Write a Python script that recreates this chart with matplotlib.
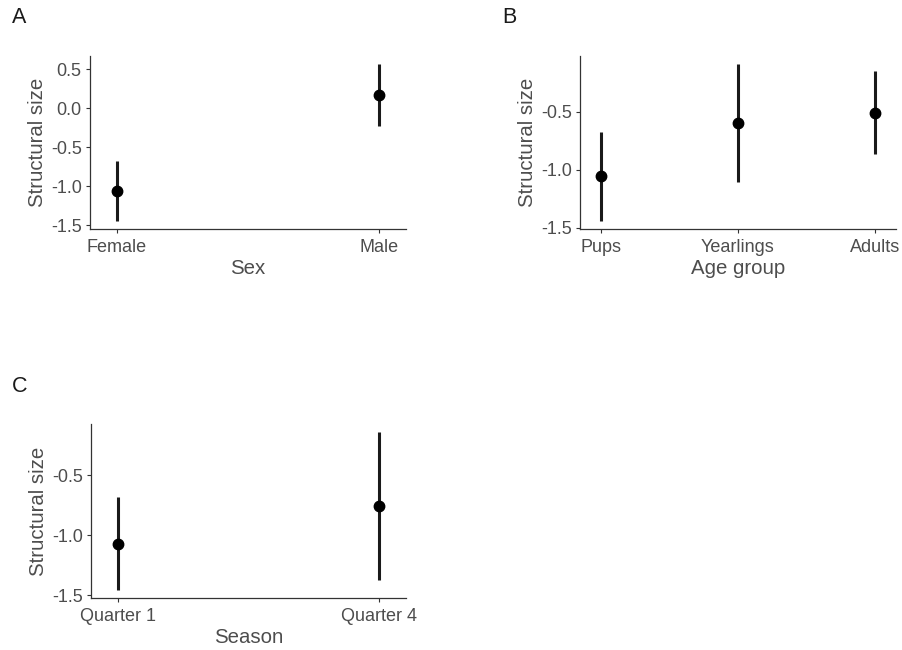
import matplotlib
matplotlib.use("Agg")
import matplotlib.pyplot as plt

plt.rcParams['font.family'] = ['Liberation Sans', 'DejaVu Sans']

# Panel A: Sex
sex_cats = ["Female", "Male"]
sex_est = [-1.068, 0.168]
sex_lo = [-1.45, -0.23]
sex_hi = [-0.68, 0.57]

# Panel B: Age group
age_cats = ["Pups", "Yearlings", "Adults"]
age_est = [-1.057, -0.60, -0.509]
age_lo = [-1.443, -1.106, -0.86]
age_hi = [-0.678, -0.086, -0.149]

# Panel C: Season
season_cats = ["Quarter 1", "Quarter 4"]
season_est = [-1.07, -0.758]
season_lo = [-1.458, -1.375]
season_hi = [-0.68, -0.139]

W, H = 902, 650
fig = plt.figure(figsize=(W / 100, H / 100), dpi=100)

TICK_C = "#4d4d4d"
TITLE_C = "#4d4d4d"


def px_axes(left, top, right, bottom):
    return fig.add_axes([left / W, 1 - bottom / H, (right - left) / W, (bottom - top) / H])


def panel(ax, cats, est, lo, hi, xlabel, yticks, ylim, xpad):
    xs = list(range(len(cats)))
    ax.vlines(xs, lo, hi, color="#1a1a1a", lw=2.2, zorder=2)
    ax.plot(xs, est, "o", color="black", ms=7.5, zorder=3)
    ax.set_xticks(xs)
    ax.set_xticklabels(cats)
    ax.set_xlim(-xpad, len(cats) - 1 + xpad)
    ax.set_yticks(yticks)
    ax.set_yticklabels([f"{v:.1f}" for v in yticks])
    ax.set_ylim(*ylim)
    for s in ["top", "right"]:
        ax.spines[s].set_visible(False)
    for s in ["left", "bottom"]:
        ax.spines[s].set_color("#333333")
        ax.spines[s].set_linewidth(0.9)
    ax.tick_params(axis="both", length=3, width=0.8, color="#333333",
                   labelcolor=TICK_C, labelsize=13, pad=3)
    ax.tick_params(axis="x", pad=4.5)
    ax.set_xlabel(xlabel, fontsize=14.7, color=TITLE_C, labelpad=2)
    ax.set_ylabel("Structural size", fontsize=14.7, color=TITLE_C, labelpad=3)


axA = px_axes(90, 56, 406, 229)
panel(axA, sex_cats, sex_est, sex_lo, sex_hi, "Sex",
      [-1.5, -1.0, -0.5, 0.0, 0.5], (-1.551, 0.671), 0.103)

axB = px_axes(580, 56, 896, 229)
panel(axB, age_cats, age_est, age_lo, age_hi, "Age group",
      [-1.5, -1.0, -0.5], (-1.511, -0.018), 0.153)

axC = px_axes(91, 424, 406, 598)
panel(axC, season_cats, season_est, season_lo, season_hi, "Season",
      [-1.5, -1.0, -0.5], (-1.524, -0.073), 0.103)

for lbl, x, y in [("A", 12, 23), ("B", 502, 23), ("C", 12, 392)]:
    fig.text(x / W, 1 - y / H, lbl, fontsize=15.5, color="#1a1a1a",
             ha="left", va="baseline")

fig.savefig("out.png", dpi=100, facecolor="white")
